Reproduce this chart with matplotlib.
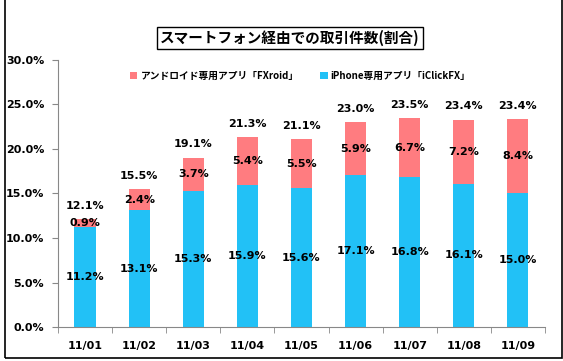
import matplotlib.pyplot as plt
import matplotlib.patches as patches
from matplotlib.ticker import FuncFormatter, FixedLocator

# data
dates = ['11/01', '11/02', '11/03', '11/04', '11/05', '11/06', '11/07', '11/08', '11/09']
iphone = [11.2, 13.1, 15.3, 15.9, 15.6, 17.1, 16.8, 16.1, 15.0]
android = [0.9, 2.4, 3.7, 5.4, 5.5, 5.9, 6.7, 7.2, 8.4]
totals = [12.1, 15.5, 19.1, 21.3, 21.1, 23.0, 23.5, 23.4, 23.4]
yticks = [0, 5, 10, 15, 20, 25, 30]

title = 'スマートフォン経由での取引件数(割合)'
android_name = 'アンドロイド専用アプリ「FXroid」'
iphone_name = 'iPhone専用アプリ「iClickFX」'

jp = ['Noto Sans CJK JP', 'DejaVu Sans']
red = '#FF7C80'
blue = '#22C1F6'

fig = plt.figure(figsize=(5.63, 3.61), dpi=100)
ax = fig.add_axes([0.103, 0.094, 0.865, 0.74])

x = list(range(len(dates)))
w = 0.39
ax.bar(x, iphone, width=w, color=blue, label=iphone_name)
ax.bar(x, android, width=w, bottom=iphone, color=red, label=android_name)

for i in x:
    ax.text(i, iphone[i] / 2, f'{iphone[i]:.1f}%', ha='center', va='center',
            fontsize=8, fontweight='bold')
    ax.text(i, iphone[i] + android[i] / 2, f'{android[i]:.1f}%', ha='center', va='center',
            fontsize=8, fontweight='bold')
    ax.text(i, totals[i] + 0.9, f'{totals[i]:.1f}%', ha='center', va='bottom',
            fontsize=8, fontweight='bold')

ax.set_xlim(-0.5, len(dates) - 0.5)
ax.set_ylim(0, 30)
ax.set_yticks(yticks)
ax.yaxis.set_major_formatter(FuncFormatter(lambda v, p: f'{v:.1f}%'))
ax.set_xticks(x)
ax.set_xticklabels(dates)
ax.xaxis.set_minor_locator(FixedLocator([i + 0.5 for i in range(-1, len(dates))]))
ax.tick_params(axis='x', which='major', length=0, pad=10)
ax.tick_params(axis='x', which='minor', length=4, color='#888888')
ax.tick_params(axis='y', length=4, color='#888888', pad=6)
for lab in ax.get_xticklabels() + ax.get_yticklabels():
    lab.set_fontsize(8)
    lab.set_fontweight('bold')

for s in ['top', 'right']:
    ax.spines[s].set_visible(False)
ax.spines['left'].set_color('#888888')
ax.spines['bottom'].set_color('#888888')

# legend, android first
h, l = ax.get_legend_handles_labels()
fig.legend([h[1], h[0]], [l[1], l[0]], loc='center', bbox_to_anchor=(0.533, 0.79),
           ncol=2, frameon=False, handlelength=0.8, handleheight=0.8,
           handletextpad=0.3, columnspacing=2.2,
           prop={'family': jp, 'size': 7, 'weight': 'bold'})

fig.text(0.515, 0.895, title, ha='center', va='center', fontsize=10.5, fontweight='bold',
         family=jp, bbox=dict(boxstyle='square,pad=0.2', fc='white', ec='black', lw=1))

# outer frame
fig.patches.append(patches.Rectangle((0.009, 0.008), 0.989, 1.1, transform=fig.transFigure,
                                     fill=False, ec='black', lw=1.2))

fig.savefig('out.png', dpi=100)
